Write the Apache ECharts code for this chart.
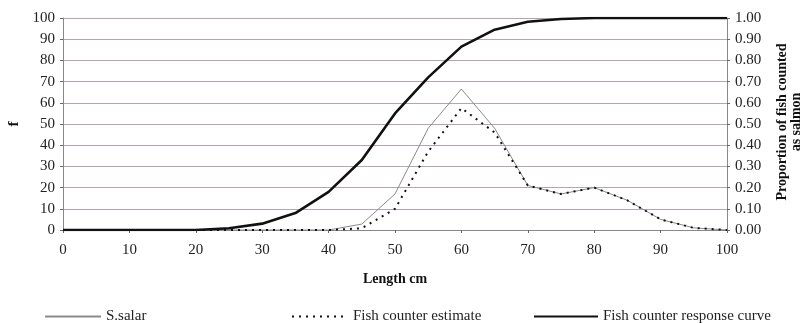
<!DOCTYPE html>
<html><head><meta charset="utf-8">
<script src="https://cdn.jsdelivr.net/npm/echarts@6/dist/echarts.min.js"></script>
<style>html,body{margin:0;padding:0;background:#fff}#c{width:804px;height:323px}</style>
</head><body><div id="c"></div>
<script>
const lengths = [0,5,10,15,20,25,30,35,40,45,50,55,60,65,70,75,80,85,90,95,100];
const sSalar = [0,0,0,0,0,0,0,0,0,2.8,17,48,66.5,48,21,17,20,14,5,1,0];
const counterEstimate = [0,0,0,0,0,0,0,0,0,0.8,10,37,57.5,46,21,17,20,14,5,1,0];
const responseCurve = [0,0,0,0,0,0.008,0.03,0.08,0.18,0.33,0.55,0.72,0.865,0.945,0.982,0.995,1,1,1,1,1];
const xTicks = [0,10,20,30,40,50,60,70,80,90,100];
const seriesNames = ['S.salar','Fish counter estimate','Fish counter response curve'];

const pair = (xs, ys) => xs.map((x,i)=>[x, ys[i]]);
const font = 'Liberation Serif';
const chart = echarts.init(document.getElementById('c'));
const gridColor = '#b3a6b3';
const legendBase = {top: 304, itemHeight: 10, itemGap: 8,
  itemStyle:{opacity:0},
  textStyle:{fontFamily:font,fontSize:15,color:'#222'}};
chart.setOption({
  animation:false,
  textStyle:{fontFamily:font},
  grid:{left:63,right:77,top:18,bottom:93,outerBoundsMode:'none',containLabel:false},
  legend:[
    Object.assign({}, legendBase, {left:39, itemWidth:56, data:[seriesNames[0]]}),
    Object.assign({}, legendBase, {left:286, itemWidth:56, data:[seriesNames[1]]}),
    Object.assign({}, legendBase, {left:528, itemWidth:64, data:[seriesNames[2]]})
  ],
  xAxis:{type:'value',min:0,max:100,interval:10,
    name:'Length cm',nameLocation:'middle',nameGap:42,
    nameTextStyle:{fontFamily:font,fontSize:14,fontWeight:'bold',color:'#111'},
    axisLine:{lineStyle:{color:'#888',width:1}},
    axisTick:{show:true,inside:false,length:3,lineStyle:{color:'#666'}},
    axisLabel:{fontFamily:font,fontSize:15,color:'#222',margin:13},
    splitLine:{show:false}},
  yAxis:[
    {type:'value',min:0,max:100,interval:10,
     name:'f',nameLocation:'middle',nameGap:26,nameRotate:90,
     nameTextStyle:{fontFamily:font,fontSize:15,fontWeight:'bold',color:'#111'},
     axisLine:{show:true,lineStyle:{color:'#888'}},
     axisTick:{show:true,length:3,lineStyle:{color:'#666'}},
     axisLabel:{fontFamily:font,fontSize:15,color:'#222',margin:8},
     splitLine:{show:true,lineStyle:{color:gridColor,width:1}}},
    {type:'value',min:0,max:1,interval:0.1,position:'right',
     name:'Proportion of fish counted\nas salmon',nameLocation:'middle',nameGap:48,nameRotate:90,
     nameTextStyle:{fontFamily:font,fontSize:14,fontWeight:'bold',color:'#111',lineHeight:14,padding:[0,0,0,4]},
     axisLine:{show:true,lineStyle:{color:'#888'}},
     axisTick:{show:true,length:3,lineStyle:{color:'#666'}},
     axisLabel:{fontFamily:font,fontSize:15,color:'#222',margin:8,formatter:v=>v.toFixed(2)},
     splitLine:{show:false}}
  ],
  series:[
    {name:seriesNames[0],type:'line',data:pair(lengths,sSalar),symbol:'none',
     lineStyle:{color:'#8a8a8a',width:1},itemStyle:{color:'#8a8a8a'},z:3},
    {name:seriesNames[1],type:'line',data:pair(lengths,counterEstimate),symbol:'none',
     lineStyle:{color:'#111',width:2,type:[2,5]},itemStyle:{color:'#111'},z:4},
    {name:seriesNames[2],type:'line',yAxisIndex:1,data:pair(lengths,responseCurve),symbol:'none',
     lineStyle:{color:'#111',width:2.6},itemStyle:{color:'#111'},z:5}
  ]
});
</script></body></html>
